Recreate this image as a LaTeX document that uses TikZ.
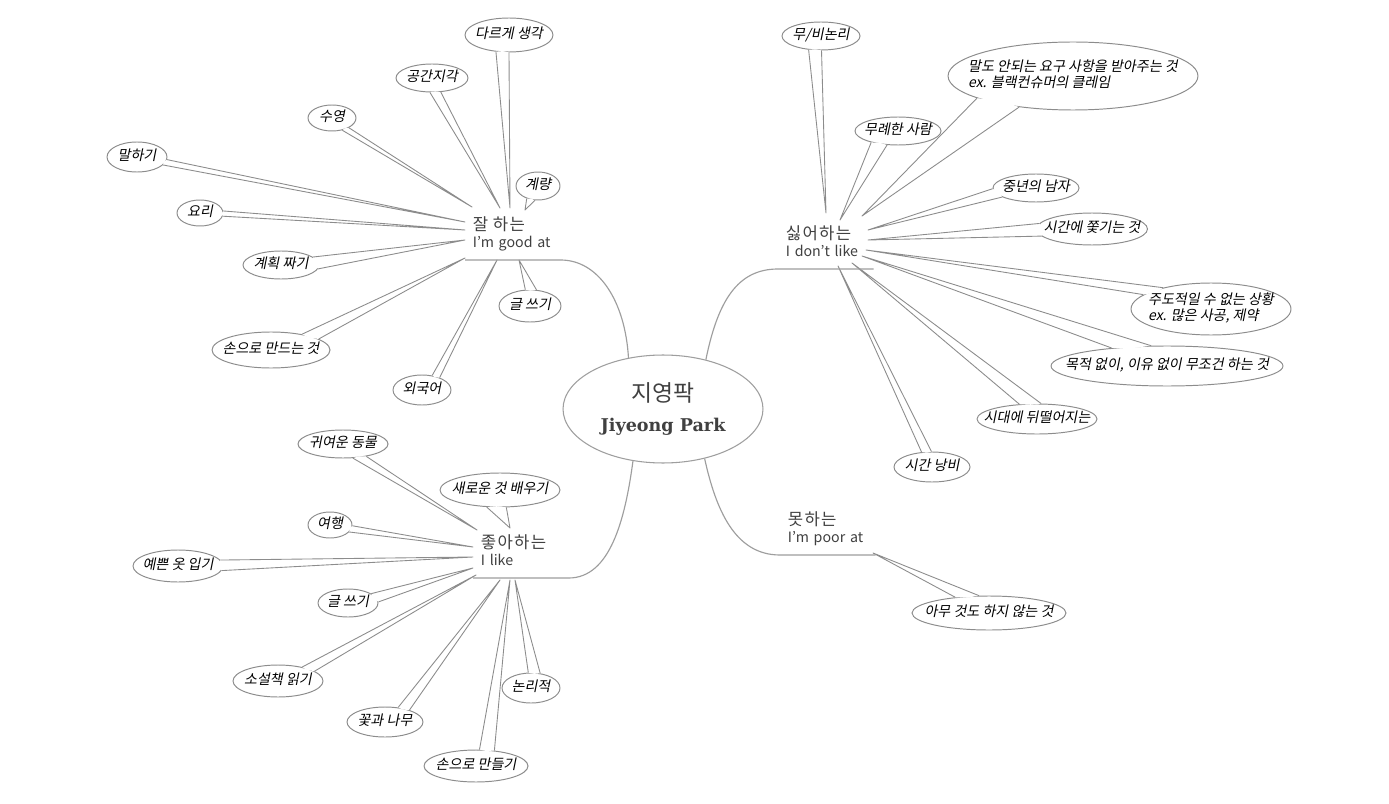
\documentclass[tikz,border=0pt]{standalone}
\usepackage{fontspec}
\setmainfont{Noto Sans CJK KR}
\newfontfamily\notefont[FakeSlant=0.2]{Noto Sans CJK KR}
\newfontfamily\branchfont[LetterSpace=8]{Noto Sans CJK KR}
\newfontfamily\slabfont{DejaVu Serif}
\usetikzlibrary{shapes.geometric,calc}
\definecolor{LineGray}{HTML}{8C8C8C}
\definecolor{StemGray}{HTML}{9E9E9E}
\definecolor{TextGray}{HTML}{404040}
\pgfdeclarelayer{front}
\pgfsetlayers{main,front}
\newcommand{\notebox}[1]{\makebox[0pt]{\begin{tabular}{@{}l@{}}#1\end{tabular}}}
% callout tail: node, tip, two base angles on the ellipse
\newcommand{\notetail}[4]{%
  \coordinate (#1-tip) at (#2);
  \fill[white] (#1.#3) -- (#1-tip) -- (#1.#4) -- ($(#1.center)!.94!($(#1.#3)!.5!(#1.#4)$)$) -- cycle;
  \begin{pgfonlayer}{front}
    \draw[tailline] (#1.#3) -- (#1-tip) -- (#1.#4);
  \end{pgfonlayer}}

\begin{document}
\begin{tikzpicture}[x=0.02cm,y=-0.02cm,
  note/.style={ellipse,draw=LineGray,fill=white,inner sep=0pt,line width=.55pt,
    font=\notefont\fontsize{8}{8.3}\selectfont},
  tailline/.style={draw=LineGray,line width=.5pt,line join=round},
  branch/.style={anchor=south west,text width=1.6cm,inner xsep=.15cm,inner ysep=3.9pt,
    align=left,text=TextGray,font=\fontsize{8.1}{9.8}\selectfont},
  stem/.style={draw=StemGray,line width=.65pt}]
\useasboundingbox (0,0) rectangle (1389,804);
\fill[white] (0,0) rectangle (1389,804);

\node[ellipse,draw=StemGray,fill=white,line width=.6pt,minimum width=4cm,minimum height=2.16cm,
  align=center,text=TextGray,font=\fontsize{13}{17}\selectfont] (root) at (663,409)
  {지영팍\\{\slabfont\bfseries\fontsize{10}{17}\selectfont Jiyeong Park}};

% callouts
\foreach \nm/\pos/\nw/\nh/\txt in {
  g1/{509,35}/1.76/.68/{다르게 생각}, g2/{432,78}/1.44/.56/{공간지각},
  g3/{332,118}/.96/.52/{수영}, g4/{137,157}/1.2/.6/{말하기},
  g5/{200,213}/.92/.52/{요리}, g6/{281,265}/1.52/.56/{계획 짜기},
  g7/{538,186}/.88/.56/{계량}, g8/{530,306}/1.24/.64/{글 쓰기},
  g9/{271,350}/2.36/.72/{손으로 만드는 것}, g10/{422,390}/1.16/.6/{외국어},
  d1/{821,36}/1.56/.56/{무/비논리}, d2/{898,131}/1.72/.56/{무례한 사람},
  d3/{1073,76}/5.0/1.36/{말도 안되는 요구 사항을 받아주는 것\\ex. 블랙컨슈머의 클레임},
  d4/{1036,188}/1.72/.56/{중년의 남자}, d5/{1092,229}/2.22/.64/{시간에 쫓기는 것},
  d6/{1211,309}/3.2/1.04/{주도적일 수 없는 상황\\ex. 많은 사공, 제약},
  d7/{1167,366}/4.64/.8/{목적 없이, 이유 없이 무조건 하는 것},
  d8/{1037,419}/2.4/.6/{시대에 뒤떨어지는}, d9/{932,467}/1.52/.6/{시간 낭비},
  l1/{343,444}/1.8/.56/{귀여운 동물}, l2/{500,490}/2.4/.68/{새로운 것 배우기},
  l3/{330,525}/.88/.52/{여행}, l4/{178,566}/1.8/.64/{예쁜 옷 입기},
  l5/{348,603}/1.2/.56/{글 쓰기}, l6/{278,681}/1.8/.64/{소설책 읽기},
  l7/{385,722}/1.52/.6/{꽃과 나무}, l8/{476,766}/2.08/.64/{손으로 만들기},
  l9/{531,688}/1.16/.6/{논리적},
  p1/{989,613}/3.08/.68/{아무 것도 하지 않는 것}}
  \node[note,minimum width=\nw cm,minimum height=\nh cm] (\nm) at (\pos) {\notebox{\txt}};

% tails
\foreach \nm/\tip/\angA/\angB in {
  g1/{510,208}/232/270, g2/{500,208}/262/302, g3/{472,207}/310/330,
  g4/{465,222}/343/355, g5/{465,230}/352/5, g6/{465,240}/354/14,
  g7/{525,210}/228/258, g8/{519,260}/68/106, g9/{465,258}/13/27,
  g10/{497,260}/35/55,
  d1/{826,213}/228/272, d2/{840,220}/203/232, d3/{862,216}/193/210,
  d4/{868,230}/181/195, d5/{868,240}/174/188, d6/{866,250}/156/168,
  d7/{862,256}/128/162, d8/{852,263}/75/140, d9/{838,266}/92/125,
  l1/{477,530}/305/332, l2/{510,528}/232/290, l3/{473,547}/340/358,
  l4/{473,557}/354/8, l5/{473,568}/2/22, l6/{476,575}/15/30,
  l7/{500,580}/26/48, l8/{510,580}/40/78, l9/{515,580}/58/100,
  p1/{873,553}/120/155}
  \notetail{\nm}{\tip}{\angA}{\angB};

\begin{pgfonlayer}{front}
\node[branch] (good) at (465,260) {{\branchfont\fontsize{9.5}{9.8}\selectfont 잘 하는}\\I'm good at\strut};
\node[branch] (dislike) at (778,269) {{\branchfont\fontsize{9.5}{9.8}\selectfont 싫어하는}\\I don't like\strut};
\node[branch] (like) at (473,578) {{\branchfont\fontsize{9.5}{9.8}\selectfont 좋아하는}\\I like\strut};
\node[branch] (poor) at (780,555) {{\branchfont\fontsize{9.5}{9.8}\selectfont 못하는}\\I'm poor at\strut};

\draw[stem] (root.124) .. controls (625,300) and (598,260) .. (good.south east) -- (good.south west);
\draw[stem] (root.49) .. controls (718,300) and (738,269) .. (dislike.south west) -- (dislike.south east);
\draw[stem] (root.240) .. controls (625,520) and (610,578) .. (like.south east) -- (like.south west);
\draw[stem] (root.310) .. controls (716,510) and (735,555) .. (poor.south west) -- (poor.south east);
\end{pgfonlayer}
\end{tikzpicture}
\end{document}
